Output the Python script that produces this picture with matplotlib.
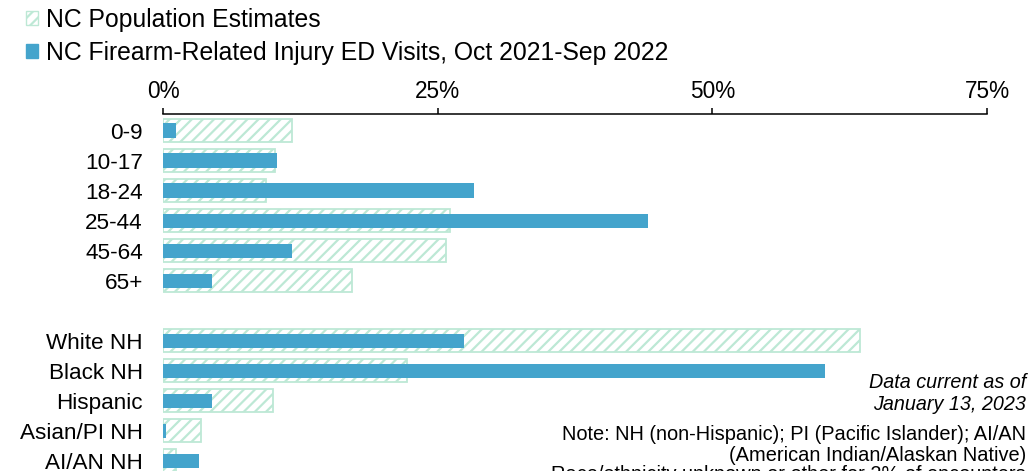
import matplotlib
matplotlib.use('Agg')
import matplotlib.pyplot as plt
from matplotlib.patches import Patch
import numpy as np

plt.rcParams['font.family'] = ['Liberation Sans', 'DejaVu Sans']
plt.rcParams['hatch.linewidth'] = 1.6

# data (percent of total)
age_groups = ['0-9', '10-17', '18-24', '25-44', '45-64', '65+']
age_pop = [11.7, 10.2, 9.4, 26.1, 25.8, 17.2]
age_ed = [1.2, 10.4, 28.3, 44.1, 11.7, 4.5]

race_groups = ['White NH', 'Black NH', 'Hispanic', 'Asian/PI NH', 'AI/AN NH']
race_pop = [63.4, 22.2, 10.0, 3.5, 1.2]
race_ed = [27.4, 60.3, 4.5, 0.3, 3.3]

x_ticks = [0, 25, 50, 75]
x_ticklabels = ['0%', '25%', '50%', '75%']

mint = '#bde8d5'
blue = '#44a4cc'

# one empty row between the two groups
labels = age_groups + [''] + race_groups
pop = age_pop + [np.nan] + race_pop
ed = age_ed + [np.nan] + race_ed
pos = np.arange(len(labels))

W, H = 1028, 471
fig = plt.figure(figsize=(W / 100, H / 100), dpi=100)
ax = fig.add_axes([163 / W, 0, 824 / W, (H - 114) / H])

ax.barh(pos, pop, height=0.77, color='white', edgecolor=mint,
        hatch='///', linewidth=1.3, label='NC Population Estimates')
ax.barh(pos, ed, height=0.47, color=blue,
        label='NC Firearm-Related Injury ED Visits, Oct 2021-Sep 2022')

ax.set_xlim(0, 75)
ax.set_ylim(11.343, -0.55)
ax.set_xticks(x_ticks)
ax.set_xticklabels(x_ticklabels, fontsize=16.3)
ax.set_yticks(pos)
ax.set_yticklabels(labels, fontsize=16.2)

ax.xaxis.tick_top()
ax.tick_params(axis='x', direction='out', length=4, width=1.1, pad=4)
ax.tick_params(axis='y', left=False, pad=11)
for s in ['left', 'right', 'bottom']:
    ax.spines[s].set_visible(False)
ax.spines['top'].set_linewidth(1.1)

handles = [Patch(facecolor='white', edgecolor=mint, hatch='///', linewidth=1.0),
           Patch(facecolor=blue, edgecolor=blue)]
fig.legend(handles, ['NC Population Estimates',
                     'NC Firearm-Related Injury ED Visits, Oct 2021-Sep 2022'],
           loc='upper left', bbox_to_anchor=(26 / W, 1 - 8 / H),
           frameon=False, fontsize=17.8, borderpad=0, borderaxespad=0,
           handlelength=0.5, handleheight=0.5, handletextpad=0.3,
           labelspacing=0.37)

def fy(px):
    return 1 - px / H

fig.text(1026 / W, fy(388), 'Data current as of', ha='right', va='baseline',
         fontsize=14.2, style='italic')
fig.text(1026 / W, fy(410), 'January 13, 2023', ha='right', va='baseline',
         fontsize=14.2, style='italic')
fig.text(1026 / W, fy(440), 'Note: NH (non-Hispanic); PI (Pacific Islander); AI/AN',
         ha='right', va='baseline', fontsize=14.4)
fig.text(1026 / W, fy(461), '(American Indian/Alaskan Native)',
         ha='right', va='baseline', fontsize=14.4)
fig.text(1026 / W, fy(480), 'Race/ethnicity unknown or other for 2% of encounters',
         ha='right', va='baseline', fontsize=14.4)

fig.savefig('out.png', dpi=100)
